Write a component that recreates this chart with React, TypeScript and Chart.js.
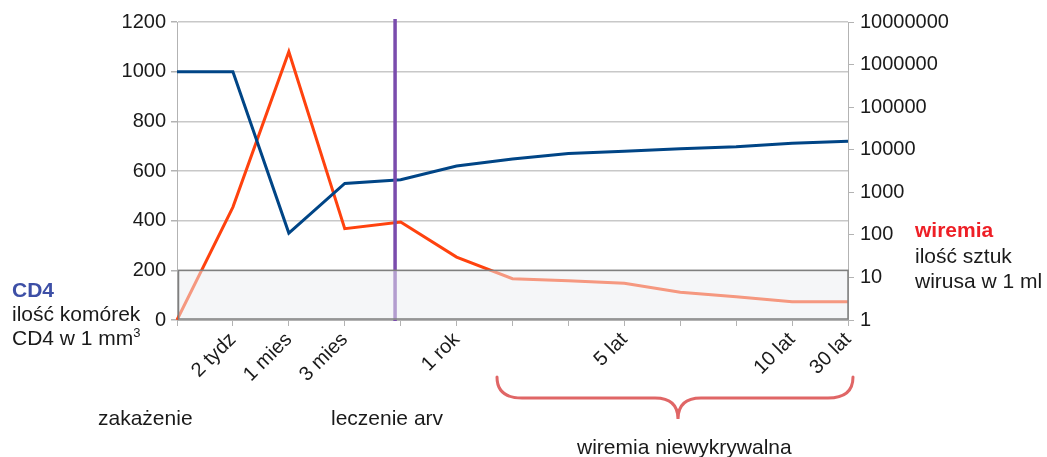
import React, { useEffect, useRef } from "react";
import { Chart, registerables } from "chart.js";

Chart.register(...registerables);

// ---- data ----
const categories = ["", "2 tydz", "1 mies", "3 mies", "", "1 rok", "", "", "5 lat", "", "", "10 lat", "30 lat"];
const cd4Values = [1000, 1000, 350, 550, 565, 620, 648, 670, 680, 690, 698, 712, 720];
const viremiaValues = [1, 450, 2000000, 140, 200, 30, 9.3, 8.3, 7.3, 4.5, 3.5, 2.7, 2.7];
const rightTickValues = [1, 10, 100, 1000, 10000, 100000, 1000000, 10000000];
const undetectableBand = [0, 200];
const arvStartIndex = 3.9;

const FONT = "'Liberation Sans', Arial, sans-serif";
const BLUE = "#004586";
const ORANGE = "#ff420e";
const PURPLE = "#7a4cad";

const overlayPlugin = {
  id: "overlay",
  afterDatasetsDraw(chart: any) {
    const { ctx, chartArea, scales } = chart;
    const xs = scales.x;
    const ys = scales.y;
    ctx.save();
    // treatment start line
    const px = xs.getPixelForValue(arvStartIndex);
    ctx.strokeStyle = PURPLE;
    ctx.lineWidth = 3.5;
    ctx.beginPath();
    ctx.moveTo(px, chartArea.top - 3);
    ctx.lineTo(px, chartArea.bottom + 1);
    ctx.stroke();
    // low band box
    const top = ys.getPixelForValue(undetectableBand[1]);
    const bottom = ys.getPixelForValue(undetectableBand[0]);
    const left = chartArea.left + 1.5;
    const right = chartArea.right;
    ctx.fillStyle = "rgba(235,237,241,0.5)";
    ctx.fillRect(left, top, right - left, bottom - top);
    ctx.strokeStyle = "#7f7f7f";
    ctx.lineWidth = 1.5;
    ctx.strokeRect(left, top, right - left, bottom - 1 - top);
    ctx.restore();
  },
};

export default function App() {
  const ref = useRef<HTMLCanvasElement | null>(null);

  useEffect(() => {
    if (!ref.current) return;
    const chart = new Chart(ref.current, {
      type: "line",
      data: {
        labels: categories,
        datasets: [
          {
            data: cd4Values,
            borderColor: BLUE,
            borderWidth: 3,
            pointRadius: 0,
            tension: 0,
            yAxisID: "y",
          },
          {
            data: viremiaValues,
            borderColor: ORANGE,
            borderWidth: 3,
            pointRadius: 0,
            tension: 0,
            yAxisID: "y2",
          },
        ],
      },
      options: {
        animation: false,
        responsive: false,
        devicePixelRatio: 1,
        layout: { padding: { top: 22, left: 0, right: 0, bottom: 0 } },
        plugins: { legend: { display: false }, tooltip: { enabled: false } },
        scales: {
          x: {
            type: "category",
            offset: false,
            grid: {
              drawOnChartArea: false,
              tickLength: 6,
              color: "#b3b3b3",
            },
            border: { color: "#b3b3b3" },
            ticks: {
              autoSkip: false,
              maxRotation: 45,
              minRotation: 45,
              color: "#1a1a1a",
              font: { family: FONT, size: 20 },
              padding: 2,
            },
            afterFit(s: any) {
              s.height = 137;
            },
          },
          y: {
            type: "linear",
            position: "left",
            min: 0,
            max: 1200,
            grid: {
              color: (c: any) => (c.tick && c.tick.value % 200 === 0 ? "#c8c8c8" : "#ececec"),
              tickColor: (c: any) => (c.tick && c.tick.value % 200 === 0 ? "#b3b3b3" : "rgba(0,0,0,0)"),
              tickLength: 6,
              lineWidth: 1.5,
            },
            border: { color: "#b3b3b3" },
            ticks: {
              stepSize: 100,
              color: "#1a1a1a",
              font: { family: FONT, size: 20 },
              padding: 5,
              callback: (v: any) => (Number(v) % 200 === 0 ? String(v) : ""),
            },
            afterFit(s: any) {
              s.width = 177;
            },
          },
          y2: {
            type: "logarithmic",
            position: "right",
            min: 1,
            max: 10000000,
            grid: { drawOnChartArea: false, tickLength: 6, color: "#b3b3b3" },
            border: { color: "#b3b3b3" },
            afterBuildTicks(s: any) {
              s.ticks = rightTickValues.map((v) => ({ value: v }));
            },
            ticks: {
              color: "#1a1a1a",
              font: { family: FONT, size: 20 },
              padding: 6,
              callback: (v: any) => String(v),
            },
            afterFit(s: any) {
              s.width = 199;
            },
          },
        },
      },
      plugins: [overlayPlugin],
    });
    return () => chart.destroy();
  }, []);

  const txt: React.CSSProperties = {
    position: "absolute",
    fontFamily: FONT,
    fontSize: 21,
    color: "#1a1a1a",
    whiteSpace: "nowrap",
  };

  return (
    <div style={{ position: "absolute", left: 0, top: 0, width: 1047, height: 457, background: "#fff", overflow: "hidden" }}>
      <canvas ref={ref} width={1047} height={457} style={{ position: "absolute", left: 0, top: 0, width: 1047, height: 457 }} />
      <div style={{ ...txt, left: 12, top: 278, lineHeight: "24px" }}>
        <div style={{ fontWeight: "bold", color: "#3d4fa6" }}>CD4</div>
        <div>ilość komórek</div>
        <div>
          CD4 w 1 mm<sup style={{ fontSize: 13, verticalAlign: "top", lineHeight: "14px" }}>3</sup>
        </div>
      </div>
      <div style={{ ...txt, left: 915, top: 217, lineHeight: "25.5px" }}>
        <div style={{ fontWeight: "bold", color: "#ee1f26" }}>wiremia</div>
        <div>ilość sztuk</div>
        <div>wirusa w 1 ml</div>
      </div>
      <div style={{ ...txt, left: 98, top: 406, lineHeight: "24px" }}>zakażenie</div>
      <div style={{ ...txt, left: 331, top: 406, lineHeight: "24px" }}>leczenie arv</div>
      <div style={{ ...txt, left: 577, top: 435, lineHeight: "24px" }}>wiremia niewykrywalna</div>
      <svg width={1047} height={457} style={{ position: "absolute", left: 0, top: 0, pointerEvents: "none" }}>
        <path
          d="M497,377 Q497,398 522,398 L655,398 Q678,398 678,419 Q678,398 701,398 L828,398 Q853,398 853,377"
          fill="none"
          stroke="#e06666"
          strokeWidth={3}
          strokeLinecap="round"
        />
      </svg>
    </div>
  );
}
